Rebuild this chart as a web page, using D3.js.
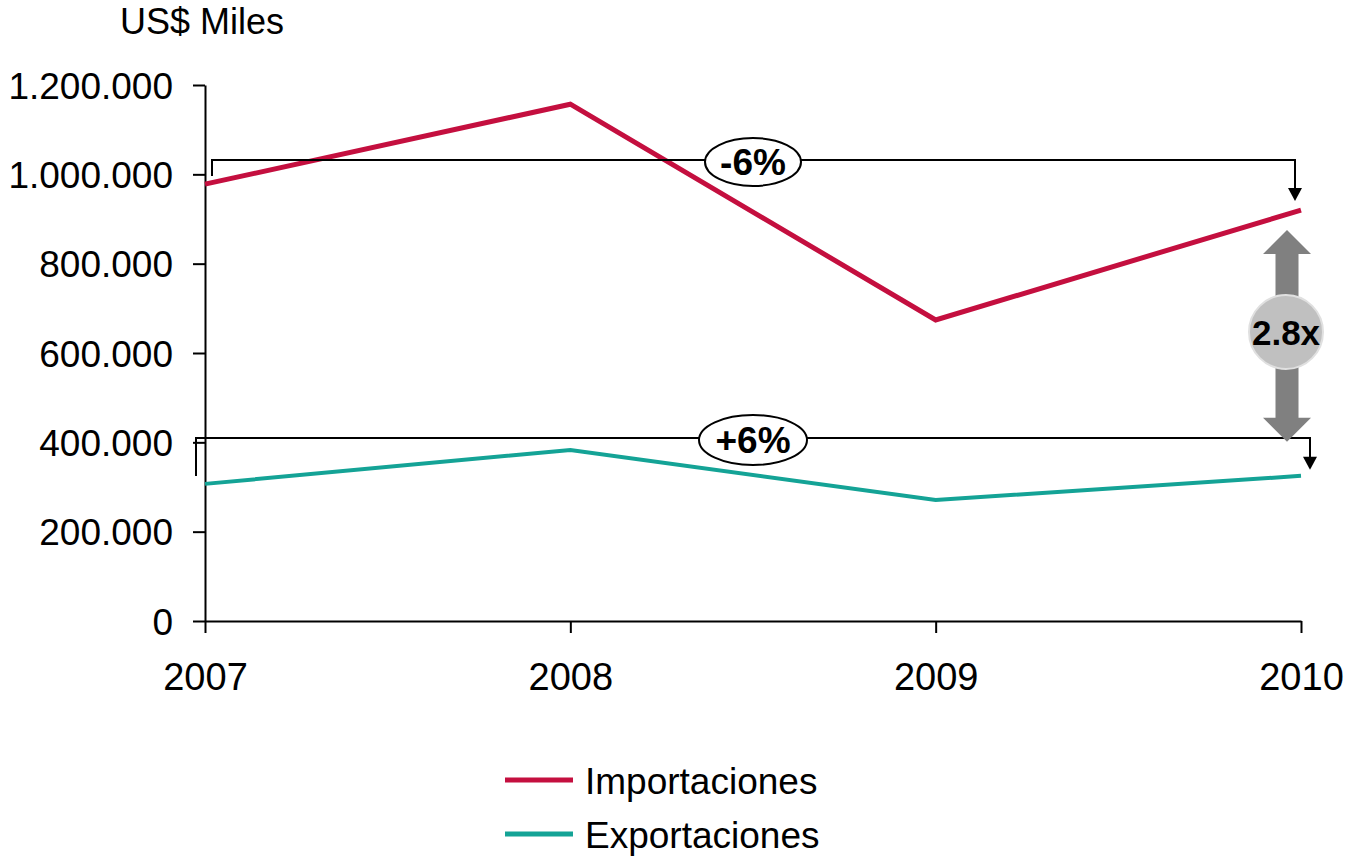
<!DOCTYPE html>
<html>
<head>
<meta charset="utf-8">
<script src="https://cdn.jsdelivr.net/npm/d3@7"></script>
<style>
  html, body { margin: 0; padding: 0; background: #fff; }
  svg { display: block; font-family: "Liberation Sans", Arial, sans-serif; }
</style>
</head>
<body>
<svg id="chart" width="1347" height="856"></svg>
<script>
// Trade values, thousands of US$
const years = ["2007", "2008", "2009", "2010"];
const importaciones = [978000, 1157000, 674000, 920000];
const exportaciones = [307000, 383000, 271000, 325000];
const yTicks = [0, 200000, 400000, 600000, 800000, 1000000, 1200000];
const seriesNames = ["Importaciones", "Exportaciones"];
const seriesColors = ["#C40F3F", "#14A396"];
const changeLabels = ["-6%", "+6%"];
const ratioLabel = "2.8x";
const unitLabel = "US$ Miles";

const svg = d3.select("#chart");
const x = d3.scalePoint().domain(years).range([205, 1301]);
const y = d3.scaleLinear().domain([0, 1200000]).range([621, 85]);
const fmt = v => d3.format(",")(v).replace(/,/g, ".");

// Y axis
const yAxis = svg.append("g").attr("transform", "translate(205,0)")
  .call(d3.axisLeft(y).tickValues(yTicks).tickFormat(fmt).tickSize(12).tickSizeOuter(0).tickPadding(20));
yAxis.selectAll("text").attr("font-size", 37).attr("fill", "#000").attr("dy", "0.36em");
yAxis.selectAll("line, path").attr("stroke", "#000").attr("stroke-width", 2);

// X axis
const xAxis = svg.append("g").attr("transform", "translate(0,621)")
  .call(d3.axisBottom(x).tickSize(12).tickSizeOuter(0).tickPadding(30));
xAxis.selectAll("text").attr("font-size", 38).attr("fill", "#000");
xAxis.selectAll("line, path").attr("stroke", "#000").attr("stroke-width", 2);

svg.append("text").attr("x", 120).attr("y", 34).attr("font-size", 36).text(unitLabel);

// Series lines
const line = d3.line().x((d, i) => x(years[i])).y(d => y(d));
[importaciones, exportaciones].forEach((s, k) => {
  svg.append("path").datum(s).attr("d", line).attr("fill", "none")
    .attr("stroke", seriesColors[k]).attr("stroke-width", k === 0 ? 5 : 4);
});

// Change brackets between first and last year
function bracket(yLine, xl, yl, xr, yArrowTip, label, rx, ry) {
  const g = svg.append("g");
  g.append("path")
    .attr("d", `M${xl},${yl} V${yLine} H${xr} V${yArrowTip - 11}`)
    .attr("fill", "none").attr("stroke", "#000").attr("stroke-width", 2);
  g.append("path")
    .attr("d", `M${xr - 7},${yArrowTip - 13} L${xr + 7},${yArrowTip - 13} L${xr},${yArrowTip} Z`)
    .attr("fill", "#000");
  const cx = 753;
  g.append("ellipse").attr("cx", cx).attr("cy", yLine + 2).attr("rx", rx).attr("ry", ry)
    .attr("fill", "#fff").attr("stroke", "#000").attr("stroke-width", 2);
  g.append("text").attr("x", cx).attr("y", yLine + 2).attr("dy", "0.36em")
    .attr("text-anchor", "middle").attr("font-size", 37).attr("font-weight", "bold").text(label);
}
bracket(160, 212, 176, 1295, y(importaciones[3]) - 9, changeLabels[0], 48, 24);
bracket(438, 196, 476, 1310, y(exportaciones[3]) - 6, changeLabels[1], 54, 25);

// Ratio double arrow between series at the last year
const ax = 1287;
const yTop = y(importaciones[3]) + 20, yBot = y(exportaciones[3]) - 34;
const hw = 24, sw = 11.5, hh = 24;
svg.append("path")
  .attr("d", `M${ax},${yTop} L${ax + hw},${yTop + hh} L${ax + sw},${yTop + hh} L${ax + sw},${yBot - hh}
              L${ax + hw},${yBot - hh} L${ax},${yBot} L${ax - hw},${yBot - hh} L${ax - sw},${yBot - hh}
              L${ax - sw},${yTop + hh} L${ax - hw},${yTop + hh} Z`)
  .attr("fill", "#808080");
svg.append("circle").attr("cx", ax - 1).attr("cy", 332).attr("r", 37)
  .attr("fill", "#c0c0c0").attr("stroke", "#e0e0e0").attr("stroke-width", 2);
svg.append("text").attr("x", ax - 1).attr("y", 332).attr("dy", "0.36em")
  .attr("text-anchor", "middle").attr("font-size", 35).attr("font-weight", "bold").text(ratioLabel);

// Legend
const legend = svg.append("g");
seriesNames.forEach((n, i) => {
  const ly = 780 + i * 54;
  legend.append("line").attr("x1", 505).attr("x2", 573).attr("y1", ly).attr("y2", ly)
    .attr("stroke", seriesColors[i]).attr("stroke-width", 5);
  legend.append("text").attr("x", 585).attr("y", ly).attr("dy", "0.38em")
    .attr("font-size", 37).text(n);
});
</script>
</body>
</html>
